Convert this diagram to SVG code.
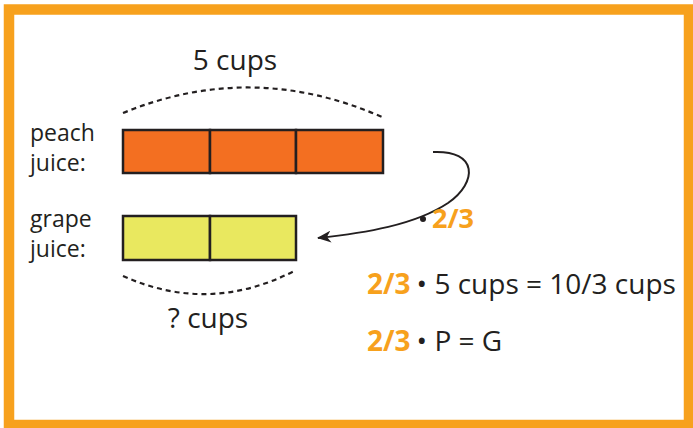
<svg xmlns="http://www.w3.org/2000/svg" width="693" height="428" viewBox="0 0 693 428">
  <style>
    .txt { font-family: "Open Sans", "Noto Sans", "Liberation Sans", sans-serif; fill: #231f20; }
    .frac { font-family: "Open Sans", "Noto Sans", "Liberation Sans", sans-serif; font-weight: bold; fill: #f7a11d; }
    .bar { stroke: #231f20; stroke-width: 2.5; }
    .brace { fill: none; stroke: #231f20; stroke-width: 2.2; stroke-dasharray: 5 4; }
  </style>
  <defs>
    <marker id="arrow" viewBox="0 0 14 12" refX="13" refY="6" markerWidth="14" markerHeight="12" markerUnits="userSpaceOnUse" orient="auto">
      <path d="M0,0 L14,6 L0,12 L4,6 Z" fill="#231f20"/>
    </marker>
  </defs>

  <rect x="0" y="0" width="693" height="428" fill="#ffffff"/>
  <!-- outer frame -->
  <rect x="9" y="9.5" width="680" height="415.5" fill="none" stroke="#f7a11d" stroke-width="10.5"/>

  <!-- peach juice bar -->
  <g id="peach">
    <text class="txt" x="30" y="141" font-size="23">peach</text>
    <text class="txt" x="30" y="171" font-size="23">juice:</text>
    <rect class="bar" x="123" y="130" width="87" height="43" fill="#f36f21"/>
    <rect class="bar" x="210" y="130" width="86" height="43" fill="#f36f21"/>
    <rect class="bar" x="296" y="130" width="87" height="43" fill="#f36f21"/>
  </g>

  <!-- grape juice bar -->
  <g id="grape">
    <text class="txt" x="30" y="227" font-size="23">grape</text>
    <text class="txt" x="30" y="257" font-size="23">juice:</text>
    <rect class="bar" x="123" y="216" width="87" height="44" fill="#e9e85f"/>
    <rect class="bar" x="210" y="216" width="86" height="44" fill="#e9e85f"/>
  </g>

  <!-- total labels -->
  <g id="total-peach">
    <path class="brace" d="M123,113 Q252,60 382,117"/>
    <text class="txt" x="235" y="70" font-size="28" text-anchor="middle">5 cups</text>
  </g>
  <g id="total-grape">
    <path class="brace" d="M123,276 Q210,315 296,270"/>
    <text class="txt" x="208" y="328" font-size="28" text-anchor="middle">? cups</text>
  </g>

  <!-- scaling arrow -->
  <g id="connectors">
    <path d="M433,152 C478,150 478,182 448,203 C415,225 365,233 318,238" fill="none" stroke="#231f20" stroke-width="2" marker-end="url(#arrow)"/>
  </g>

  <g id="factor">
    <circle cx="423" cy="219" r="3" fill="#231f20"/>
    <text class="frac" x="432" y="228" font-size="27">2/3</text>
  </g>

  <g id="equations">
    <text x="367" y="294" font-size="28"><tspan class="frac">2/3</tspan><tspan class="txt" dx="6">• 5 cups = 10/3 cups</tspan></text>
    <text x="367" y="351" font-size="28"><tspan class="frac">2/3</tspan><tspan class="txt" dx="6">• P = G</tspan></text>
  </g>
</svg>
